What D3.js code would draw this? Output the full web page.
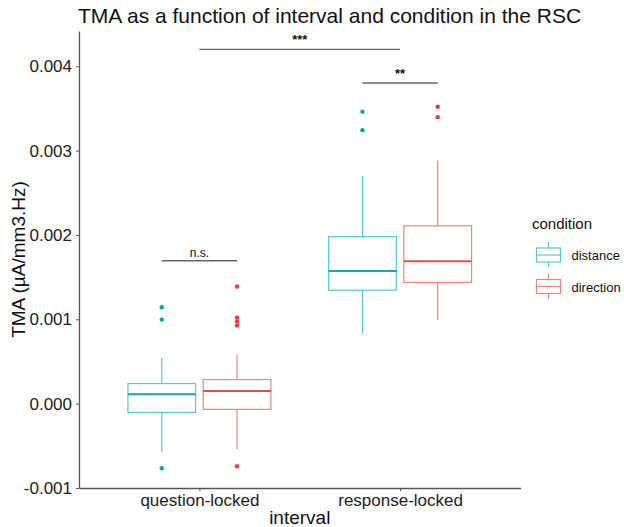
<!DOCTYPE html>
<html><head><meta charset="utf-8">
<script src="https://cdn.jsdelivr.net/npm/d3@7"></script>
<style>body{margin:0;background:#fff;} text{font-family:"Liberation Sans",Arial,sans-serif;}</style>
</head><body>
<svg id="c" width="624" height="527"></svg>
<script>
const intervals = ["question-locked", "response-locked"];
const conditions = ["distance", "direction"];
// per interval, per condition: [whiskerLow, q1, median, q3, whiskerHigh]
const distanceStats = [
  [-0.00057, -0.000104, 0.000111, 0.000238, 0.000544],
  [0.00083, 0.001345, 0.001571, 0.00198, 0.002699]
];
const directionStats = [
  [-0.000539, -0.000068, 0.000151, 0.000286, 0.000583],
  [0.000988, 0.001437, 0.001687, 0.002107, 0.002881]
];
const distanceOutliers = [
  [0.001143, 0.000996, -0.000765],
  [0.003461, 0.003242]
];
const directionOutliers = [
  [0.001389, 0.00102, 0.000973, 0.000925, -0.000742],
  [0.00352, 0.003396]
];
const yTicks = [-0.001, 0.000, 0.001, 0.002, 0.003, 0.004];
const yTickLabels = ["-0.001", "0.000", "0.001", "0.002", "0.003", "0.004"];
const brackets = [
  {x1: 0.8125, x2: 1.1875, y: 0.001694, label: "n.s."},
  {x1: 1.8125, x2: 2.1875, y: 0.003801, label: "**"},
  {x1: 1.0, x2: 2.0, y: 0.004199, label: "***"}
];

const boxColors = {distance: "#5cc8ca", direction: "#ef8282"};
const medColors = {distance: "#16a8aa", direction: "#e84b4b"};
const ptColors = {distance: "#00a6a8", direction: "#f03a3e"};

const svg = d3.select("#c");
const L = 79, R = 520.5, T = 31, B = 488;
const x = d3.scaleLinear().domain([0.4, 2.6]).range([L, R]);
const y = d3.scaleLinear().domain([-0.001, 0.0044172]).range([B, T]);

const g = svg.append("g");
const dodge = 0.1875, bw = 0.3375;

conditions.forEach((cond, ci) => {
  const stats = cond === "distance" ? distanceStats : directionStats;
  const outs = cond === "distance" ? distanceOutliers : directionOutliers;
  intervals.forEach((iv, ii) => {
    const cx = ii + 1 + (ci === 0 ? -dodge : dodge);
    const s = stats[ii];
    const bc = boxColors[cond];
    g.append("line").attr("x1", x(cx)).attr("x2", x(cx)).attr("y1", y(s[3])).attr("y2", y(s[4]))
      .attr("stroke", bc).attr("stroke-width", 1.2);
    g.append("line").attr("x1", x(cx)).attr("x2", x(cx)).attr("y1", y(s[0])).attr("y2", y(s[1]))
      .attr("stroke", bc).attr("stroke-width", 1.2);
    g.append("rect").attr("x", x(cx - bw/2)).attr("width", x(cx + bw/2) - x(cx - bw/2))
      .attr("y", y(s[3])).attr("height", y(s[1]) - y(s[3]))
      .attr("fill", "none").attr("stroke", bc).attr("stroke-width", 1.2);
    g.append("line").attr("x1", x(cx - bw/2)).attr("x2", x(cx + bw/2)).attr("y1", y(s[2])).attr("y2", y(s[2]))
      .attr("stroke", medColors[cond]).attr("stroke-width", 2);
    outs[ii].forEach(v => {
      g.append("circle").attr("cx", x(cx)).attr("cy", y(v)).attr("r", 2.2).attr("fill", ptColors[cond]);
    });
  });
});

brackets.forEach(b => {
  g.append("line").attr("x1", x(b.x1)).attr("x2", x(b.x2)).attr("y1", y(b.y)).attr("y2", y(b.y))
    .attr("stroke", "#666").attr("stroke-width", 1.3);
  g.append("text").attr("x", (x(b.x1) + x(b.x2)) / 2).attr("y", y(b.y) - (b.label === "n.s." ? 4 : 5))
    .attr("text-anchor", "middle").attr("font-size", b.label === "n.s." ? 12 : 13).attr("font-weight", b.label === "n.s." ? "normal" : "bold").attr("fill", "#111")
    .text(b.label);
});

const ya = svg.append("g").attr("transform", `translate(${L},0)`)
  .call(d3.axisLeft(y).tickValues(yTicks).tickFormat((d, i) => yTickLabels[i]).tickSize(3).tickSizeOuter(0));
ya.select(".domain").attr("stroke", "#555").attr("stroke-width", 1.3);
ya.selectAll(".tick line").attr("stroke", "#555");
ya.selectAll(".tick text").attr("font-size", 17).attr("fill", "#222").attr("dx", "-1").attr("font-family", "Liberation Sans, Arial, sans-serif");

const xa = svg.append("g").attr("transform", `translate(0,${B})`)
  .call(d3.axisBottom(x).tickValues([1, 2]).tickFormat((d, i) => intervals[i]).tickSize(3).tickSizeOuter(0));
xa.select(".domain").attr("stroke", "#555").attr("stroke-width", 1.3);
xa.selectAll(".tick line").attr("stroke", "#555");
xa.selectAll(".tick text").attr("font-size", 17).attr("fill", "#222").attr("dy", "0.72em").attr("font-family", "Liberation Sans, Arial, sans-serif");

svg.append("text").attr("x", 78).attr("y", 23).attr("font-size", 21).attr("fill", "#111")
  .text("TMA as a function of interval and condition in the RSC");
svg.append("text").attr("x", (L + R) / 2).attr("y", 524).attr("text-anchor", "middle").attr("font-size", 19).attr("fill", "#111")
  .text("interval");
svg.append("text").attr("transform", `translate(25,${(T + B) / 2}) rotate(-90)`).attr("text-anchor", "middle")
  .attr("font-size", 19).attr("fill", "#111").text("TMA (µA/mm3.Hz)");

const lg = svg.append("g");
lg.append("text").attr("x", 532).attr("y", 229).attr("font-size", 15).attr("fill", "#111").text("condition");
conditions.forEach((cond, i) => {
  const cy = 255 + i * 31.5;
  const c = boxColors[cond];
  lg.append("line").attr("x1", 548.5).attr("x2", 548.5).attr("y1", cy - 13).attr("y2", cy + 12).attr("stroke", c).attr("stroke-width", 1.2);
  lg.append("rect").attr("x", 536.5).attr("y", cy - 7).attr("width", 24).attr("height", 14).attr("fill", "white").attr("stroke", c).attr("stroke-width", 1.2);
  lg.append("line").attr("x1", 536.5).attr("x2", 560.5).attr("y1", cy).attr("y2", cy).attr("stroke", c).attr("stroke-width", 1.2);
  lg.append("text").attr("x", 571.5).attr("y", cy + 5).attr("font-size", 13).attr("fill", "#111").text(cond);
});
</script>
</body></html>
